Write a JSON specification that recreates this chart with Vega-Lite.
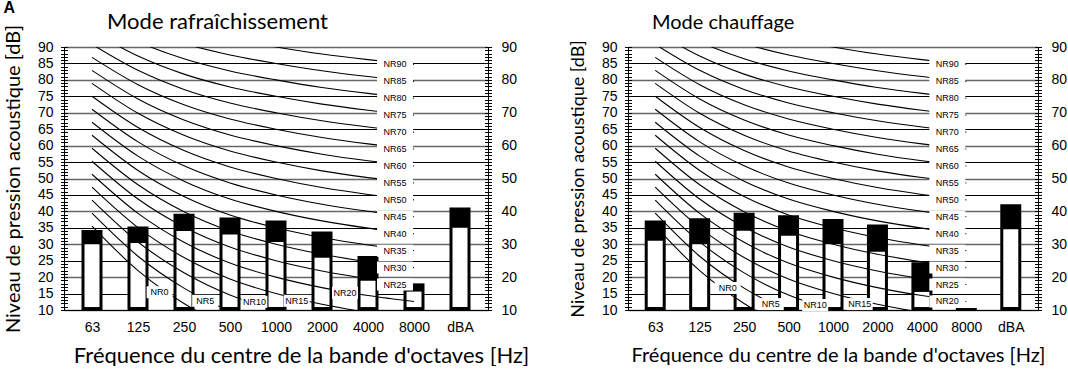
{
  "$schema": "https://vega.github.io/schema/vega-lite/v6.json",
  "background": "white",
  "padding": {"left": 3, "top": 0, "right": 2, "bottom": 0},
  "title": {"text": "A", "anchor": "start", "frame": "bounds", "font": "Liberation Sans", "fontWeight": "bold", "fontSize": 16, "color": "black", "offset": -5},
  "config": {
    "view": {"stroke": null},
    "axis": {"labelFont": "Liberation Sans", "labelFontSize": 14, "labelColor": "black", "titleFont": "Lato", "titleFontSize": 20, "titleFontWeight": "normal", "titleColor": "black", "tickColor": "black", "domainColor": "black", "gridColor": "black", "gridOpacity": 1}
  },
  "datasets": {
    "curves": [
      {"c":"NR0","nr":0,"i":0,"db":35.5},{"c":"NR0","nr":0,"i":1,"db":22},{"c":"NR0","nr":0,"i":2,"db":12},{"c":"NR0","nr":0,"i":3,"db":4.8},{"c":"NR0","nr":0,"i":4,"db":0},{"c":"NR0","nr":0,"i":5,"db":-3.5},{"c":"NR0","nr":0,"i":6,"db":-6.1},{"c":"NR0","nr":0,"i":7,"db":-8},
      {"c":"NR5","nr":5,"i":0,"db":39.45},{"c":"NR5","nr":5,"i":1,"db":26.35},{"c":"NR5","nr":5,"i":2,"db":16.65},{"c":"NR5","nr":5,"i":3,"db":9.67},{"c":"NR5","nr":5,"i":4,"db":5},{"c":"NR5","nr":5,"i":5,"db":1.58},{"c":"NR5","nr":5,"i":6,"db":-0.98},{"c":"NR5","nr":5,"i":7,"db":-2.85},
      {"c":"NR10","nr":10,"i":0,"db":43.4},{"c":"NR10","nr":10,"i":1,"db":30.7},{"c":"NR10","nr":10,"i":2,"db":21.3},{"c":"NR10","nr":10,"i":3,"db":14.54},{"c":"NR10","nr":10,"i":4,"db":10},{"c":"NR10","nr":10,"i":5,"db":6.65},{"c":"NR10","nr":10,"i":6,"db":4.15},{"c":"NR10","nr":10,"i":7,"db":2.3},
      {"c":"NR15","nr":15,"i":0,"db":47.35},{"c":"NR15","nr":15,"i":1,"db":35.05},{"c":"NR15","nr":15,"i":2,"db":25.95},{"c":"NR15","nr":15,"i":3,"db":19.41},{"c":"NR15","nr":15,"i":4,"db":15},{"c":"NR15","nr":15,"i":5,"db":11.73},{"c":"NR15","nr":15,"i":6,"db":9.28},{"c":"NR15","nr":15,"i":7,"db":7.45},
      {"c":"NR20","nr":20,"i":0,"db":51.3},{"c":"NR20","nr":20,"i":1,"db":39.4},{"c":"NR20","nr":20,"i":2,"db":30.6},{"c":"NR20","nr":20,"i":3,"db":24.28},{"c":"NR20","nr":20,"i":4,"db":20},{"c":"NR20","nr":20,"i":5,"db":16.8},{"c":"NR20","nr":20,"i":6,"db":14.4},{"c":"NR20","nr":20,"i":7,"db":12.6},
      {"c":"NR25","nr":25,"i":0,"db":55.25},{"c":"NR25","nr":25,"i":1,"db":43.75},{"c":"NR25","nr":25,"i":2,"db":35.25},{"c":"NR25","nr":25,"i":3,"db":29.15},{"c":"NR25","nr":25,"i":4,"db":25},{"c":"NR25","nr":25,"i":5,"db":21.88},{"c":"NR25","nr":25,"i":6,"db":19.53},{"c":"NR25","nr":25,"i":7,"db":17.75},
      {"c":"NR30","nr":30,"i":0,"db":59.2},{"c":"NR30","nr":30,"i":1,"db":48.1},{"c":"NR30","nr":30,"i":2,"db":39.9},{"c":"NR30","nr":30,"i":3,"db":34.02},{"c":"NR30","nr":30,"i":4,"db":30},{"c":"NR30","nr":30,"i":5,"db":26.95},{"c":"NR30","nr":30,"i":6,"db":24.65},{"c":"NR30","nr":30,"i":7,"db":22.9},
      {"c":"NR35","nr":35,"i":0,"db":63.15},{"c":"NR35","nr":35,"i":1,"db":52.45},{"c":"NR35","nr":35,"i":2,"db":44.55},{"c":"NR35","nr":35,"i":3,"db":38.89},{"c":"NR35","nr":35,"i":4,"db":35},{"c":"NR35","nr":35,"i":5,"db":32.03},{"c":"NR35","nr":35,"i":6,"db":29.78},{"c":"NR35","nr":35,"i":7,"db":28.05},
      {"c":"NR40","nr":40,"i":0,"db":67.1},{"c":"NR40","nr":40,"i":1,"db":56.8},{"c":"NR40","nr":40,"i":2,"db":49.2},{"c":"NR40","nr":40,"i":3,"db":43.76},{"c":"NR40","nr":40,"i":4,"db":40},{"c":"NR40","nr":40,"i":5,"db":37.1},{"c":"NR40","nr":40,"i":6,"db":34.9},{"c":"NR40","nr":40,"i":7,"db":33.2},
      {"c":"NR45","nr":45,"i":0,"db":71.05},{"c":"NR45","nr":45,"i":1,"db":61.15},{"c":"NR45","nr":45,"i":2,"db":53.85},{"c":"NR45","nr":45,"i":3,"db":48.63},{"c":"NR45","nr":45,"i":4,"db":45},{"c":"NR45","nr":45,"i":5,"db":42.18},{"c":"NR45","nr":45,"i":6,"db":40.03},{"c":"NR45","nr":45,"i":7,"db":38.35},
      {"c":"NR50","nr":50,"i":0,"db":75},{"c":"NR50","nr":50,"i":1,"db":65.5},{"c":"NR50","nr":50,"i":2,"db":58.5},{"c":"NR50","nr":50,"i":3,"db":53.5},{"c":"NR50","nr":50,"i":4,"db":50},{"c":"NR50","nr":50,"i":5,"db":47.25},{"c":"NR50","nr":50,"i":6,"db":45.15},{"c":"NR50","nr":50,"i":7,"db":43.5},
      {"c":"NR55","nr":55,"i":0,"db":78.95},{"c":"NR55","nr":55,"i":1,"db":69.85},{"c":"NR55","nr":55,"i":2,"db":63.15},{"c":"NR55","nr":55,"i":3,"db":58.37},{"c":"NR55","nr":55,"i":4,"db":55},{"c":"NR55","nr":55,"i":5,"db":52.33},{"c":"NR55","nr":55,"i":6,"db":50.28},{"c":"NR55","nr":55,"i":7,"db":48.65},
      {"c":"NR60","nr":60,"i":0,"db":82.9},{"c":"NR60","nr":60,"i":1,"db":74.2},{"c":"NR60","nr":60,"i":2,"db":67.8},{"c":"NR60","nr":60,"i":3,"db":63.24},{"c":"NR60","nr":60,"i":4,"db":60},{"c":"NR60","nr":60,"i":5,"db":57.4},{"c":"NR60","nr":60,"i":6,"db":55.4},{"c":"NR60","nr":60,"i":7,"db":53.8},
      {"c":"NR65","nr":65,"i":0,"db":86.85},{"c":"NR65","nr":65,"i":1,"db":78.55},{"c":"NR65","nr":65,"i":2,"db":72.45},{"c":"NR65","nr":65,"i":3,"db":68.11},{"c":"NR65","nr":65,"i":4,"db":65},{"c":"NR65","nr":65,"i":5,"db":62.48},{"c":"NR65","nr":65,"i":6,"db":60.53},{"c":"NR65","nr":65,"i":7,"db":58.95},
      {"c":"NR70","nr":70,"i":0,"db":90.8},{"c":"NR70","nr":70,"i":1,"db":82.9},{"c":"NR70","nr":70,"i":2,"db":77.1},{"c":"NR70","nr":70,"i":3,"db":72.98},{"c":"NR70","nr":70,"i":4,"db":70},{"c":"NR70","nr":70,"i":5,"db":67.55},{"c":"NR70","nr":70,"i":6,"db":65.65},{"c":"NR70","nr":70,"i":7,"db":64.1},
      {"c":"NR75","nr":75,"i":0,"db":94.75},{"c":"NR75","nr":75,"i":1,"db":87.25},{"c":"NR75","nr":75,"i":2,"db":81.75},{"c":"NR75","nr":75,"i":3,"db":77.85},{"c":"NR75","nr":75,"i":4,"db":75},{"c":"NR75","nr":75,"i":5,"db":72.63},{"c":"NR75","nr":75,"i":6,"db":70.78},{"c":"NR75","nr":75,"i":7,"db":69.25},
      {"c":"NR80","nr":80,"i":0,"db":98.7},{"c":"NR80","nr":80,"i":1,"db":91.6},{"c":"NR80","nr":80,"i":2,"db":86.4},{"c":"NR80","nr":80,"i":3,"db":82.72},{"c":"NR80","nr":80,"i":4,"db":80},{"c":"NR80","nr":80,"i":5,"db":77.7},{"c":"NR80","nr":80,"i":6,"db":75.9},{"c":"NR80","nr":80,"i":7,"db":74.4},
      {"c":"NR85","nr":85,"i":0,"db":102.65},{"c":"NR85","nr":85,"i":1,"db":95.95},{"c":"NR85","nr":85,"i":2,"db":91.05},{"c":"NR85","nr":85,"i":3,"db":87.59},{"c":"NR85","nr":85,"i":4,"db":85},{"c":"NR85","nr":85,"i":5,"db":82.78},{"c":"NR85","nr":85,"i":6,"db":81.03},{"c":"NR85","nr":85,"i":7,"db":79.55},
      {"c":"NR90","nr":90,"i":0,"db":106.6},{"c":"NR90","nr":90,"i":1,"db":100.3},{"c":"NR90","nr":90,"i":2,"db":95.7},{"c":"NR90","nr":90,"i":3,"db":92.46},{"c":"NR90","nr":90,"i":4,"db":90},{"c":"NR90","nr":90,"i":5,"db":87.85},{"c":"NR90","nr":90,"i":6,"db":86.15},{"c":"NR90","nr":90,"i":7,"db":84.7}
    ],
    "barsL": [
      {"i":0,"band":"63","top":34.3,"low":30},{"i":1,"band":"125","top":35.4,"low":30.4},{"i":2,"band":"250","top":39.3,"low":34},{"i":3,"band":"500","top":38.1,"low":33},{"i":4,"band":"1000","top":37.2,"low":30.7},{"i":5,"band":"2000","top":33.9,"low":25.9},{"i":6,"band":"4000","top":26.4,"low":18.9},{"i":7,"band":"8000","top":18.1,"low":15.6},{"i":8,"band":"dBA","top":41.2,"low":35}
    ],
    "barsR": [
      {"i":0,"band":"63","top":37.2,"low":31.1},{"i":1,"band":"125","top":37.9,"low":30},{"i":2,"band":"250","top":39.6,"low":34.1},{"i":3,"band":"500","top":38.8,"low":32.6},{"i":4,"band":"1000","top":37.7,"low":30},{"i":5,"band":"2000","top":36,"low":27.7},{"i":6,"band":"4000","top":24.5,"low":15.5},{"i":7,"band":"8000","top":10.6,"low":null},{"i":8,"band":"dBA","top":42.2,"low":34.6}
    ],
    "inlineL": [
      {"c":"NR0","i":1.47,"db":15.4},{"c":"NR5","i":2.46,"db":12.8},{"c":"NR10","i":3.53,"db":12.5},{"c":"NR15","i":4.45,"db":12.8},{"c":"NR20","i":5.5,"db":15.2}
    ],
    "inlineR": [
      {"c":"NR0","i":1.63,"db":16.7},{"c":"NR5","i":2.6,"db":11.8},{"c":"NR10","i":3.6,"db":11.5},{"c":"NR15","i":4.6,"db":11.8}
    ]
  },
  "spacing": 40,
  "hconcat": [
    {
      "width": 424, "height": 263,
      "title": {"text": "Mode rafraîchissement", "anchor": "start", "frame": "group", "dx": 43, "font": "Lato", "fontSize": 22, "fontWeight": "normal", "color": "black", "offset": -10},
      "resolve": {"axis": {"y": "independent"}},
      "layer": [
        {
          "data": {"name": "barsL"},
          "mark": {"type": "bar", "width": 21, "color": "black"},
          "encoding": {
            "x": {"field": "i", "type": "quantitative", "scale": {"domain": [-0.5, 8.5], "nice": false, "zero": false},
                  "axis": {"values": [0,1,2,3,4,5,6,7,8], "labelExpr": "['63','125','250','500','1000','2000','4000','8000','dBA'][datum.value]", "title": "Fréquence du centre de la bande d'octaves [Hz]", "titleFontSize": 22, "titleX": 237, "ticks": false, "grid": false, "labelPadding": 10, "titlePadding": 11, "labelFlush": false, "labelOverlap": false}},
            "y": {"field": "top", "type": "quantitative", "scale": {"domain": [10, 90], "nice": false, "zero": false},
                  "axis": {"orient": "left", "values": [10,15,20,25,30,35,40,45,50,55,60,65,70,75,80,85,90], "grid": true, "gridColor": {"condition": {"test": "datum.value % 10 == 0", "value": "#666666"}, "value": "black"}, "gridWidth": {"condition": {"test": "datum.value % 10 == 0", "value": 1.6}, "value": 1}, "ticks": false, "labelPadding": 11, "labelFlush": false, "labelOverlap": false, "title": "Niveau de pression acoustique [dB]", "titlePadding": 14}},
            "y2": {"datum": 10}
          }
        },
        {
          "data": {"name": "barsL"},
          "mark": {"type": "bar", "width": 15, "color": "white"},
          "encoding": {
            "x": {"field": "i", "type": "quantitative", "scale": {"domain": [-0.5, 8.5], "nice": false, "zero": false}},
            "y": {"field": "low", "type": "quantitative", "scale": {"domain": [10, 90], "nice": false, "zero": false},
                  "axis": {"orient": "left", "values": [10,11,12,13,14,15,16,17,18,19,20,21,22,23,24,25,26,27,28,29,30,31,32,33,34,35,36,37,38,39,40,41,42,43,44,45,46,47,48,49,50,51,52,53,54,55,56,57,58,59,60,61,62,63,64,65,66,67,68,69,70,71,72,73,74,75,76,77,78,79,80,81,82,83,84,85,86,87,88,89,90], "labels": false, "domain": false, "grid": false, "tickSize": 7, "offset": -3.5, "title": null}},
            "y2": {"datum": 10.9}
          }
        },
        {
          "data": {"name": "curves"},
          "mark": {"type": "line", "color": "black", "strokeWidth": 1.1, "interpolate": "monotone", "clip": true},
          "encoding": {
            "x": {"field": "i", "type": "quantitative", "scale": {"domain": [-0.5, 8.5], "nice": false, "zero": false}},
            "y": {"field": "db", "type": "quantitative", "scale": {"domain": [10, 90], "nice": false, "zero": false},
                  "axis": {"orient": "right", "values": [10,11,12,13,14,15,16,17,18,19,20,21,22,23,24,25,26,27,28,29,30,31,32,33,34,35,36,37,38,39,40,41,42,43,44,45,46,47,48,49,50,51,52,53,54,55,56,57,58,59,60,61,62,63,64,65,66,67,68,69,70,71,72,73,74,75,76,77,78,79,80,81,82,83,84,85,86,87,88,89,90], "labels": false, "domain": false, "grid": false, "tickSize": 7, "offset": -3.5, "title": null}},
            "detail": {"field": "c", "type": "nominal"}
          }
        },
        {
          "data": {"name": "curves"},
          "transform": [{"filter": "datum.i == 7 && datum.nr >= 25"}],
          "mark": {"type": "point", "shape": "M-3.7,-0.6H-0.1V0.6H-3.7Z", "size": 400, "filled": true, "fill": "white", "strokeWidth": 0, "opacity": 1},
          "encoding": {
            "x": {"field": "i", "type": "quantitative", "scale": {"domain": [-0.5, 8.5], "nice": false, "zero": false}},
            "y": {"field": "db", "type": "quantitative", "scale": {"domain": [10, 90], "nice": false, "zero": false},
                  "axis": {"orient": "right", "values": [10,20,30,40,50,60,70,80,90], "ticks": false, "grid": false, "labelPadding": 13, "labelFlush": false, "title": null}}
          }
        },
        {
          "data": {"name": "curves"},
          "transform": [{"filter": "datum.i == 7 && datum.nr >= 25"}],
          "mark": {"type": "text", "dx": -19, "font": "Liberation Sans", "fontSize": 9, "fill": "black", "baseline": "middle"},
          "encoding": {
            "x": {"field": "i", "type": "quantitative", "scale": {"domain": [-0.5, 8.5], "nice": false, "zero": false}},
            "y": {"field": "db", "type": "quantitative", "scale": {"domain": [10, 90], "nice": false, "zero": false}, "axis": null},
            "text": {"field": "c"}
          }
        },
        {
          "data": {"name": "inlineL"},
          "mark": {"type": "point", "shape": "M-1.3,-0.6H1.3V0.6H-1.3Z", "size": 400, "filled": true, "fill": "white", "strokeWidth": 0, "opacity": 1},
          "encoding": {
            "x": {"field": "i", "type": "quantitative", "scale": {"domain": [-0.5, 8.5], "nice": false, "zero": false}},
            "y": {"field": "db", "type": "quantitative", "scale": {"domain": [10, 90], "nice": false, "zero": false}, "axis": null}
          }
        },
        {
          "data": {"name": "inlineL"},
          "mark": {"type": "text", "font": "Liberation Sans", "fontSize": 9, "fill": "black", "baseline": "middle"},
          "encoding": {
            "x": {"field": "i", "type": "quantitative", "scale": {"domain": [-0.5, 8.5], "nice": false, "zero": false}},
            "y": {"field": "db", "type": "quantitative", "scale": {"domain": [10, 90], "nice": false, "zero": false}, "axis": null},
            "text": {"field": "c"}
          }
        }
      ]
    },
    {
      "width": 410, "height": 263,
      "title": {"text": "Mode chauffage", "anchor": "start", "frame": "group", "dx": 24, "font": "Lato", "fontSize": 20, "fontWeight": "normal", "color": "black", "offset": 7},
      "resolve": {"axis": {"y": "independent"}},
      "layer": [
        {
          "data": {"name": "barsR"},
          "mark": {"type": "bar", "width": 21, "color": "black"},
          "encoding": {
            "x": {"field": "i", "type": "quantitative", "scale": {"domain": [-0.5, 8.5], "nice": false, "zero": false},
                  "axis": {"values": [0,1,2,3,4,5,6,7,8], "labelExpr": "['63','125','250','500','1000','2000','4000','8000','dBA'][datum.value]", "title": "Fréquence du centre de la bande d'octaves [Hz]", "titleFontSize": 20, "titleX": 210, "ticks": false, "grid": false, "labelPadding": 10, "titlePadding": 11, "labelFlush": false, "labelOverlap": false}},
            "y": {"field": "top", "type": "quantitative", "scale": {"domain": [10, 90], "nice": false, "zero": false},
                  "axis": {"orient": "left", "values": [10,15,20,25,30,35,40,45,50,55,60,65,70,75,80,85,90], "grid": true, "gridColor": {"condition": {"test": "datum.value % 10 == 0", "value": "#666666"}, "value": "black"}, "gridWidth": {"condition": {"test": "datum.value % 10 == 0", "value": 1.6}, "value": 1}, "ticks": false, "labelPadding": 11, "labelFlush": false, "labelOverlap": false, "title": "Niveau de pression acoustique [dB]", "titleFontSize": 18, "titlePadding": 14}},
            "y2": {"datum": 10}
          }
        },
        {
          "data": {"name": "barsR"},
          "mark": {"type": "bar", "width": 15, "color": "white"},
          "encoding": {
            "x": {"field": "i", "type": "quantitative", "scale": {"domain": [-0.5, 8.5], "nice": false, "zero": false}},
            "y": {"field": "low", "type": "quantitative", "scale": {"domain": [10, 90], "nice": false, "zero": false},
                  "axis": {"orient": "left", "values": [10,11,12,13,14,15,16,17,18,19,20,21,22,23,24,25,26,27,28,29,30,31,32,33,34,35,36,37,38,39,40,41,42,43,44,45,46,47,48,49,50,51,52,53,54,55,56,57,58,59,60,61,62,63,64,65,66,67,68,69,70,71,72,73,74,75,76,77,78,79,80,81,82,83,84,85,86,87,88,89,90], "labels": false, "domain": false, "grid": false, "tickSize": 7, "offset": -3.5, "title": null}},
            "y2": {"datum": 10.9}
          }
        },
        {
          "data": {"name": "curves"},
          "mark": {"type": "line", "color": "black", "strokeWidth": 1.1, "interpolate": "monotone", "clip": true},
          "encoding": {
            "x": {"field": "i", "type": "quantitative", "scale": {"domain": [-0.5, 8.5], "nice": false, "zero": false}},
            "y": {"field": "db", "type": "quantitative", "scale": {"domain": [10, 90], "nice": false, "zero": false},
                  "axis": {"orient": "right", "values": [10,11,12,13,14,15,16,17,18,19,20,21,22,23,24,25,26,27,28,29,30,31,32,33,34,35,36,37,38,39,40,41,42,43,44,45,46,47,48,49,50,51,52,53,54,55,56,57,58,59,60,61,62,63,64,65,66,67,68,69,70,71,72,73,74,75,76,77,78,79,80,81,82,83,84,85,86,87,88,89,90], "labels": false, "domain": false, "grid": false, "tickSize": 7, "offset": -3.5, "title": null}},
            "detail": {"field": "c", "type": "nominal"}
          }
        },
        {
          "data": {"name": "curves"},
          "transform": [{"filter": "datum.i == 7 && datum.nr >= 20"}],
          "mark": {"type": "point", "shape": "M-3.7,-0.6H-0.1V0.6H-3.7Z", "size": 400, "filled": true, "fill": "white", "strokeWidth": 0, "opacity": 1},
          "encoding": {
            "x": {"field": "i", "type": "quantitative", "scale": {"domain": [-0.5, 8.5], "nice": false, "zero": false}},
            "y": {"field": "db", "type": "quantitative", "scale": {"domain": [10, 90], "nice": false, "zero": false},
                  "axis": {"orient": "right", "values": [10,20,30,40,50,60,70,80,90], "ticks": false, "grid": false, "labelPadding": 13, "labelFlush": false, "title": null}}
          }
        },
        {
          "data": {"name": "curves"},
          "transform": [{"filter": "datum.i == 7 && datum.nr >= 20"}],
          "mark": {"type": "text", "dx": -19, "font": "Liberation Sans", "fontSize": 9, "fill": "black", "baseline": "middle"},
          "encoding": {
            "x": {"field": "i", "type": "quantitative", "scale": {"domain": [-0.5, 8.5], "nice": false, "zero": false}},
            "y": {"field": "db", "type": "quantitative", "scale": {"domain": [10, 90], "nice": false, "zero": false}, "axis": null},
            "text": {"field": "c"}
          }
        },
        {
          "data": {"name": "inlineR"},
          "mark": {"type": "point", "shape": "M-1.3,-0.6H1.3V0.6H-1.3Z", "size": 400, "filled": true, "fill": "white", "strokeWidth": 0, "opacity": 1},
          "encoding": {
            "x": {"field": "i", "type": "quantitative", "scale": {"domain": [-0.5, 8.5], "nice": false, "zero": false}},
            "y": {"field": "db", "type": "quantitative", "scale": {"domain": [10, 90], "nice": false, "zero": false}, "axis": null}
          }
        },
        {
          "data": {"name": "inlineR"},
          "mark": {"type": "text", "font": "Liberation Sans", "fontSize": 9, "fill": "black", "baseline": "middle"},
          "encoding": {
            "x": {"field": "i", "type": "quantitative", "scale": {"domain": [-0.5, 8.5], "nice": false, "zero": false}},
            "y": {"field": "db", "type": "quantitative", "scale": {"domain": [10, 90], "nice": false, "zero": false}, "axis": null},
            "text": {"field": "c"}
          }
        }
      ]
    }
  ]
}
